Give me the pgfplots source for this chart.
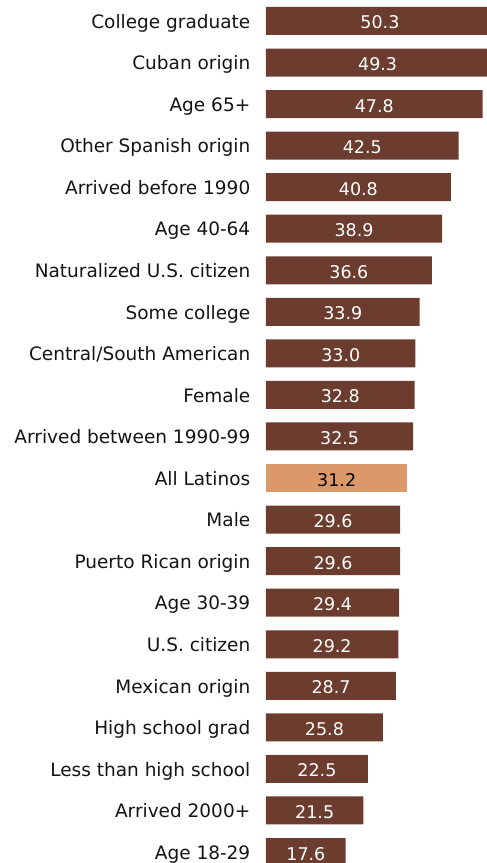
\documentclass[border=0pt]{standalone}
\usepackage{pgfplots}
\pgfplotsset{compat=1.18}
\usepackage{pgfplotstable}
\usepackage{fontspec}
\setmainfont{DejaVu Sans}
\definecolor{brownbar}{RGB}{108,61,46}
\definecolor{orangebar}{RGB}{221,152,106}
\definecolor{labeltext}{RGB}{20,20,20}
\pgfplotstableread{
idx val
20 50.3
19 49.3
18 47.8
17 42.5
16 40.8
15 38.9
14 36.6
13 33.9
12 33.0
11 32.8
10 32.5
8 29.6
7 29.6
6 29.4
5 29.2
4 28.7
3 25.8
2 22.5
1 21.5
0 17.6
}\brownvals
\pgfplotstableread{
idx val
9 31.2
}\orangevals
\begin{document}
\begin{tikzpicture}
\path[use as bounding box, clip] (0,0) rectangle (487pt,863pt);
\begin{axis}[
  at={(266pt,-9.8pt)}, anchor=south west,
  scale only axis,
  width=221pt, height=872.6pt,
  xmin=0, xmax=48.79,
  ymin=-0.5, ymax=20.5,
  axis line style={draw=none},
  xtick=\empty,
  clip=false,
  ytick={0,...,20},
  yticklabels={Age 18-29, Arrived 2000+, Less than high school, High school grad, Mexican origin, U.S. citizen, Age 30-39, Puerto Rican origin, Male, All Latinos, Arrived between 1990-99, Female, Central/South American, Some college, Naturalized U.S. citizen, Age 40-64, Arrived before 1990, Other Spanish origin, Age 65+, Cuban origin, College graduate},
  major tick length=0pt,
  yticklabel style={anchor=base east, inner sep=0pt, xshift=-15.5pt, yshift=-7.2pt, font=\fontsize{18.5}{20}\selectfont, text=labeltext},
  xbar, bar shift=0pt, bar width=28pt,
  /pgf/number format/assume math mode=true,
]
\addplot[fill=brownbar, draw=none] table[x=val, y=idx] {\brownvals};
\addplot[fill=orangebar, draw=none] table[x=val, y=idx] {\orangevals};
\addplot[draw=none, mark=none, fill=none,
  nodes near coords={\pgfmathprintnumber[fixed, fixed zerofill, precision=1, assume math mode=true]{\pgfplotspointmeta}},
  point meta=explicit,
  every node near coord/.style={anchor=base, inner sep=0pt, yshift=-8pt, text=white, font=\fontsize{17.5}{20}\selectfont}]
  table[x expr=\thisrow{val}/2, y=idx, meta=val] {\brownvals};
\addplot[draw=none, mark=none, fill=none,
  nodes near coords={\pgfmathprintnumber[fixed, fixed zerofill, precision=1, assume math mode=true]{\pgfplotspointmeta}},
  point meta=explicit,
  every node near coord/.style={anchor=base, inner sep=0pt, yshift=-8pt, text=black, font=\fontsize{17.5}{20}\selectfont}]
  table[x expr=\thisrow{val}/2, y=idx, meta=val] {\orangevals};
\end{axis}
\end{tikzpicture}
\end{document}
